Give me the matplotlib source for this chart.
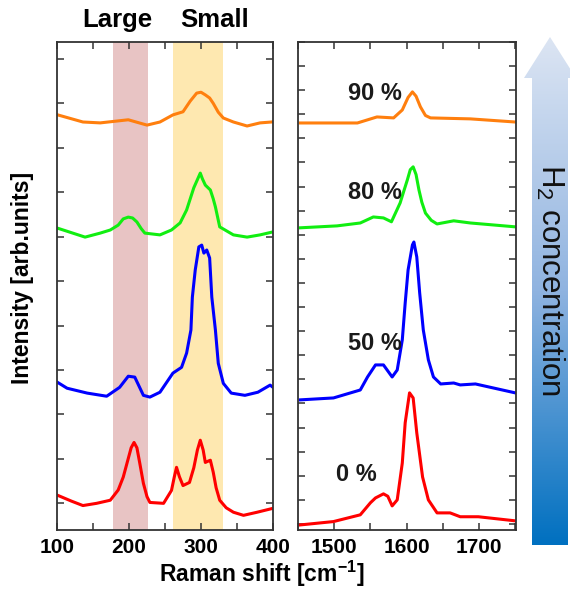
import numpy as np
import matplotlib
matplotlib.use("Agg")
import matplotlib.pyplot as plt
from matplotlib.patches import Polygon
from matplotlib.ticker import MultipleLocator, NullFormatter

plt.rcParams['font.family'] = 'Liberation Sans'
plt.rcParams['mathtext.fontset'] = 'custom'
plt.rcParams['mathtext.rm'] = 'Liberation Sans'
plt.rcParams['mathtext.bf'] = 'Liberation Sans:bold'

# low wavenumber region (left panel)
red_left_x = [101, 120, 136, 155, 174, 185, 192, 198, 203, 207, 211, 215, 220, 225, 229, 248, 259, 263, 266,
              270, 275, 284, 290, 295, 299, 303, 306, 310, 313, 317, 321, 326, 335, 345, 359, 378, 398]
red_left_y = [0.18, 0.05, -0.05, 0.0, 0.07, 0.3, 0.59, 0.95, 1.25, 1.37, 1.25, 0.9, 0.45, 0.15, 0.02, 0.0,
              0.29, 0.6, 0.81, 0.6, 0.4, 0.47, 0.8, 1.2, 1.42, 1.2, 0.92, 0.95, 0.97, 0.7, 0.35, 0.07, -0.1,
              -0.2, -0.27, -0.2, -0.12]
blue_left_x = [101, 114, 142, 169, 187, 199, 208, 220, 229, 243, 261, 273, 280, 286, 288, 292, 297, 301,
               304, 308, 312, 315, 320, 324, 331, 342, 361, 379, 396, 400]
blue_left_y = [2.72, 2.59, 2.48, 2.41, 2.61, 2.86, 2.84, 2.43, 2.39, 2.5, 2.93, 3.06, 3.38, 3.9, 4.64, 5.25,
               5.77, 5.81, 5.63, 5.7, 5.52, 4.64, 3.9, 3.15, 2.7, 2.48, 2.43, 2.5, 2.66, 2.61]
green_left_x = [101, 139, 160, 174, 185, 192, 199, 205, 211, 217, 222, 243, 259, 271, 280, 290, 299, 302,
                306, 313, 317, 320, 326, 345, 364, 382, 398]
green_left_y = [6.19, 5.99, 6.08, 6.15, 6.26, 6.4, 6.44, 6.42, 6.33, 6.18, 6.08, 6.04, 6.15, 6.31, 6.6,
                7.1, 7.43, 7.3, 7.16, 7.05, 6.85, 6.67, 6.22, 6.04, 5.99, 6.04, 6.1]
orange_left_x = [101, 136, 160, 199, 225, 243, 261, 275, 285, 294, 300, 306, 312, 317, 324, 331, 345, 364,
                 382, 398]
orange_left_y = [8.74, 8.58, 8.56, 8.63, 8.51, 8.58, 8.74, 8.81, 9.05, 9.23, 9.25, 9.19, 9.12, 9.0, 8.8,
                 8.67, 8.58, 8.49, 8.56, 8.58]

# G band region (right panel)
red_right_x = [1453, 1499, 1536, 1550, 1557, 1568, 1574, 1580, 1587, 1594, 1598, 1604, 1609, 1614, 1622,
               1630, 1642, 1660, 1674, 1699, 1750]
red_right_y = [-1.04, -0.9, -0.62, -0.12, 0.08, 0.25, 0.15, -0.25, 0.0, 1.53, 3.2, 4.44, 4.23, 2.78, 0.95,
               0.0, -0.54, -0.54, -0.7, -0.7, -0.87]
blue_right_x = [1453, 1499, 1536, 1546, 1557, 1568, 1580, 1587, 1594, 1598, 1602, 1608, 1610, 1614, 1618,
                1623, 1630, 1637, 1647, 1665, 1674, 1695, 1750]
blue_right_y = [4.15, 4.23, 4.56, 5.1, 5.6, 5.6, 5.1, 5.39, 6.64, 8.17, 9.54, 10.58, 10.7, 10.08, 8.59,
                7.05, 5.81, 5.1, 4.81, 4.85, 4.77, 4.81, 4.44]
green_right_x = [1453, 1504, 1536, 1554, 1568, 1579, 1591, 1597, 1601, 1605, 1609, 1613, 1617, 1621, 1626,
                 1634, 1642, 1665, 1688, 1750]
green_right_y = [11.29, 11.37, 11.49, 11.74, 11.7, 11.54, 12.32, 12.9, 13.28, 13.7, 13.82, 13.5, 12.86,
                 12.35, 11.9, 11.6, 11.45, 11.58, 11.49, 11.33]
orange_right_x = [1453, 1532, 1559, 1582, 1594, 1602, 1608, 1613, 1619, 1626, 1633, 1688, 1750]
orange_right_y = [15.64, 15.64, 15.89, 15.85, 16.18, 16.7, 16.93, 16.75, 16.31, 15.95, 15.85, 15.81, 15.68]

conc_labels = ["0 %", "50 %", "80 %", "90 %"]
conc_label_x = [1559, 1593, 1593, 1593]
conc_label_y = [1.04, 6.47, 12.74, 16.85]

large_band = (178, 226)
small_band = (261, 330)

colors = ['#ff0000', '#0000ff', '#11ee11', '#ff7f0e']

W, H = 570, 590
fig = plt.figure(figsize=(W / 100, H / 100), dpi=100)
ax1 = fig.add_axes([57 / W, 1 - 530 / H, 216 / W, 488 / H])
ax2 = fig.add_axes([298 / W, 1 - 530 / H, 218 / W, 488 / H])

ax1.axvspan(*large_band, color='#e8c4c4', lw=0)
ax1.axvspan(*small_band, color='#fee8b0', lw=0)

left = [(red_left_x, red_left_y), (blue_left_x, blue_left_y),
        (green_left_x, green_left_y), (orange_left_x, orange_left_y)]
right = [(red_right_x, red_right_y), (blue_right_x, blue_right_y),
         (green_right_x, green_right_y), (orange_right_x, orange_right_y)]
for (x, y), c in zip(left, colors):
    ax1.plot(x, y, color=c, lw=2.2, solid_joinstyle='round')
for (x, y), c in zip(right, colors):
    ax2.plot(x, y, color=c, lw=2.2, solid_joinstyle='round')

for lab, x, y in zip(conc_labels, conc_label_x, conc_label_y):
    ax2.text(x, y, lab, ha='right', va='center', fontsize=17, fontweight='bold', color='#1a1a1a')

ax1.set_xlim(100, 400)
ax1.set_ylim(-0.6, 10.38)
ax1.xaxis.set_major_locator(MultipleLocator(100))
ax1.xaxis.set_minor_locator(MultipleLocator(50))
ax1.yaxis.set_major_locator(MultipleLocator(1))

ax2.set_xlim(1450, 1751)
ax2.set_ylim(-1.25, 19)
ax2.xaxis.set_major_locator(MultipleLocator(100))
ax2.xaxis.set_minor_locator(MultipleLocator(50))
ax2.yaxis.set_major_locator(MultipleLocator(1))

for ax in (ax1, ax2):
    ax.yaxis.set_major_formatter(NullFormatter())
    ax.tick_params(which='both', direction='in', top=True, right=True, length=5, width=1.1, color='#333333')
    ax.tick_params(axis='x', labelsize=15, pad=6)
    for lab in ax.get_xticklabels():
        lab.set_fontweight('bold')
    for s in ax.spines.values():
        s.set_linewidth(1.3)
        s.set_color('#333333')

fig.text(117 / W, 1 - 20 / H, "Large", ha='center', va='center', fontsize=18.5, fontweight='bold')
fig.text(215 / W, 1 - 20 / H, "Small", ha='center', va='center', fontsize=18.5, fontweight='bold')
fig.text(262 / W, 1 - 574 / H, r"Raman shift [cm$^{\mathbf{-1}}$]", ha='center', va='center',
         fontsize=16.5, fontweight='bold')
fig.text(23 / W, 1 - 278 / H, "Intensity [arb.units]", ha='center', va='center', rotation=90,
         fontsize=16.5, fontweight='bold')

# gradient arrow for H2 concentration
axa = fig.add_axes([515 / W, 1 - 560 / H, 65 / W, 540 / H])
axa.set_xlim(515, 580)
axa.set_ylim(560, 20)
axa.axis('off')
grad = np.linspace(0, 1, 256).reshape(-1, 1)
cmap = matplotlib.colors.LinearSegmentedColormap.from_list('arr', ['#dce5f3', '#8fb3e0', '#0070c0'])
im = axa.imshow(grad, extent=(515, 580, 545, 37), aspect='auto', cmap=cmap)
arrow = Polygon([(550, 37), (524, 78), (532, 78), (532, 545), (568, 545), (568, 78), (576, 78)],
                closed=True, facecolor='none', edgecolor='none')
axa.add_patch(arrow)
im.set_clip_path(arrow)
fig.text(550 / W, 1 - 280 / H, r"H$_2$ concentration", ha='center', va='center', rotation=-90,
         fontsize=22.5, color='#111111')

fig.savefig("out.png", dpi=100)
